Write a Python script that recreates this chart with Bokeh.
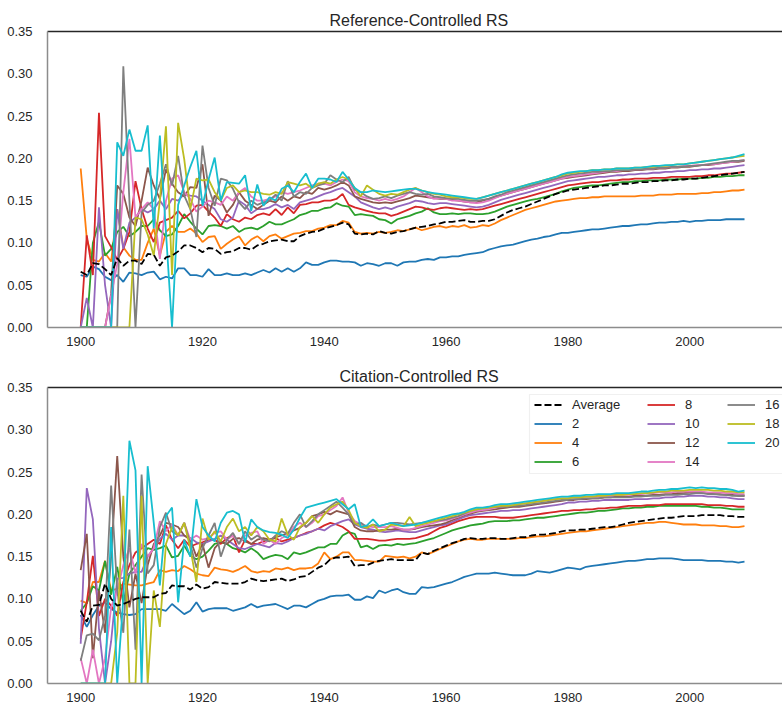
from bokeh.plotting import figure
from bokeh.models import (FixedTicker, Legend, LegendItem, Range1d, LinearAxis,
                          PrintfTickFormatter, ColumnDataSource, BoxAnnotation)
from bokeh.layouts import column
from bokeh.embed import file_html
from bokeh.resources import INLINE

years = list(range(1900, 2010))
series_labels = ["2", "4", "6", "8", "10", "12", "14", "16", "18", "20"]
series_colors = ["#1f77b4", "#ff7f0e", "#2ca02c", "#d62728", "#9467bd",
                 "#8c564b", "#e377c2", "#7f7f7f", "#bcbd22", "#17becf"]
x_ticks = [1900, 1920, 1940, 1960, 1980, 2000]
y_ticks = [0.0, 0.05, 0.10, 0.15, 0.20, 0.25, 0.30, 0.35]

# ---------------- Reference-Controlled RS (values x 1000) ----------------
ref_avg = [66,62,76,75,69,62,82,73,79,79,
           75,87,86,73,83,85,90,97,97,94,
           89,94,93,87,89,90,94,94,92,97,
           99,102,103,104,102,102,108,111,113,114,
           117,119,121,124,122,111,110,111,110,114,
           112,111,113,114,116,118,119,120,122,123,
           125,125,126,127,125,125,126,126,128,132,
           136,139,141,143,146,149,152,155,158,160,
           162,163,164,165,166,167,168,168,169,170,
           170,171,172,172,173,173,174,174,175,175,
           176,176,177,178,179,180,181,182,183,184]
ref_2 = [62,60,72,69,60,56,62,54,65,64,
         62,65,66,57,60,58,70,70,62,62,
         60,69,62,62,64,62,62,64,62,65,
         68,65,70,66,70,66,70,77,74,74,
         77,79,79,78,78,77,73,76,75,73,
         76,76,73,77,78,78,80,81,80,83,
         83,84,84,86,87,88,89,92,94,96,
         97,98,100,102,104,105,107,108,110,112,
         112,113,114,115,116,116,117,118,119,120,
         120,121,122,122,123,124,124,125,125,126,
         125,126,126,127,127,127,128,128,128,128]
ref_4 = [188,105,80,78,88,78,140,95,85,80,
         80,100,117,85,113,120,113,113,117,111,
         101,107,108,93,99,104,108,97,104,108,
         102,108,110,105,108,111,112,114,114,117,
         118,121,121,126,124,113,111,112,111,113,
         112,113,115,114,116,118,115,117,119,120,
         118,120,119,121,118,119,121,120,123,127,
         130,133,136,139,141,143,145,147,149,150,
         151,152,153,153,154,154,155,155,155,155,
         155,155,156,156,156,157,157,157,158,158,
         158,158,159,159,160,160,161,162,162,163]
ref_6 = [0,0,100,125,85,93,113,119,108,113,
         120,120,128,115,108,110,120,134,125,117,
         110,120,121,120,117,120,113,117,118,116,
         120,125,122,122,125,128,133,135,138,138,
         141,142,147,144,143,133,134,133,132,128,
         127,123,128,130,132,135,137,141,136,134,
         134,135,134,135,135,134,134,135,137,140,
         143,145,147,149,151,152,154,156,158,161,
         163,165,166,167,168,168,169,170,171,172,
         172,173,173,174,174,174,175,175,175,176,
         176,176,177,177,178,178,179,179,180,180]
ref_8 = [0,109,62,254,108,95,80,93,113,173,
         140,117,101,124,127,130,138,129,135,144,
         145,137,130,120,134,128,125,130,128,133,
         135,133,140,133,142,135,145,146,148,148,
         150,150,152,158,145,142,140,138,136,135,
         135,132,134,137,140,143,142,140,139,141,
         142,141,140,139,140,139,140,142,144,146,
         148,150,152,154,156,158,160,162,164,166,
         168,169,170,171,172,172,173,174,174,175,
         175,176,176,176,177,177,177,178,178,178,
         178,179,179,180,180,181,182,182,183,184]
ref_10 = [0,35,0,142,50,0,140,93,124,130,
          140,136,140,150,140,152,150,158,156,155,
          150,145,140,128,125,130,150,145,135,140,
          140,142,146,142,145,140,148,150,152,155,
          158,160,163,165,160,155,148,145,142,140,
          142,140,143,145,147,150,149,147,146,147,
          147,146,145,144,143,142,143,145,148,151,
          153,155,157,159,161,163,165,167,169,171,
          173,174,175,176,177,178,178,179,180,180,
          181,181,182,182,183,183,184,184,185,185,
          186,186,187,187,188,188,189,190,191,192]
ref_12 = [0,0,0,0,0,40,168,158,130,120,
          150,189,168,152,187,170,160,155,166,165,
          193,132,156,150,136,145,160,150,145,140,
          145,150,148,155,150,155,153,160,158,165,
          163,165,168,172,168,155,152,150,148,147,
          148,147,149,151,153,156,155,154,153,152,
          152,151,150,149,148,148,150,152,154,156,
          158,160,162,164,166,168,170,172,174,176,
          177,178,179,180,181,182,183,184,184,185,
          185,186,186,187,187,188,188,189,189,190,
          190,191,192,192,193,194,195,196,196,197]
ref_14 = [0,0,0,0,0,38,75,160,223,130,
          140,148,140,81,150,176,180,160,152,137,
          143,150,148,145,155,150,160,165,155,150,
          150,152,155,160,158,160,162,165,168,170,
          170,168,172,175,173,160,155,153,152,150,
          152,150,152,155,160,165,160,155,152,153,
          152,150,150,149,148,147,148,150,153,156,
          158,160,162,164,166,168,170,172,174,176,
          178,179,180,181,182,183,184,185,185,186,
          186,187,187,188,188,189,189,190,190,191,
          191,192,192,193,193,194,195,196,197,198]
ref_16 = [0,0,0,0,0,0,0,309,150,0,
          136,145,150,170,193,168,203,156,140,107,
          215,165,144,176,174,164,148,140,150,145,
          148,150,157,150,173,155,160,158,165,168,
          170,180,175,172,178,163,160,155,152,153,
          155,153,156,158,160,158,157,158,155,154,
          153,152,152,151,150,150,151,152,155,157,
          160,162,164,166,168,170,172,174,176,178,
          180,181,182,183,184,184,185,185,186,186,
          186,187,187,188,188,189,189,190,190,190,
          191,191,192,193,194,195,196,197,197,198]
ref_18 = [0,0,0,0,0,0,0,0,0,130,
          128,110,85,150,238,62,242,199,140,176,
          174,175,160,150,165,168,160,162,160,160,
          158,157,160,158,172,170,168,170,165,170,
          172,170,175,178,175,165,155,168,163,158,
          156,158,157,160,163,165,162,160,158,157,
          155,154,154,153,152,152,154,156,158,160,
          162,164,166,168,170,172,174,176,178,180,
          182,183,184,185,186,186,187,187,188,188,
          188,189,189,190,190,191,191,192,193,193,
          194,195,196,197,198,199,200,201,202,203]
ref_20 = [0,0,0,0,0,0,219,203,234,209,
          209,239,117,227,113,0,145,168,190,209,
          144,175,201,150,172,171,170,180,138,169,
          144,154,150,164,168,160,172,182,165,176,
          176,175,172,184,175,165,160,160,162,161,
          160,161,162,163,164,164,162,160,159,158,
          157,156,155,154,153,152,154,156,158,160,
          162,164,166,168,170,172,174,176,178,181,
          183,184,185,185,186,186,187,187,188,188,
          188,189,189,190,191,191,192,192,193,193,
          194,195,196,197,198,199,200,201,203,205]

# ---------------- Citation-Controlled RS (values x 1000) ----------------
cit_avg = [86,73,92,93,118,100,92,94,97,100,
           102,102,102,106,107,116,115,115,111,117,
           112,114,120,119,118,118,118,120,124,122,
           121,122,123,124,121,123,126,127,132,137,
           140,147,149,149,150,139,140,140,143,145,
           146,147,146,146,146,146,155,153,157,160,
           163,166,168,171,172,171,171,172,172,171,
           171,172,173,173,175,176,176,177,178,180,
           181,181,182,182,183,184,185,185,186,188,
           190,191,192,193,194,195,196,196,197,198,
           198,198,199,199,199,199,198,198,197,197]
cit_2 = [81,67,81,92,96,88,84,82,81,82,
         88,88,88,88,86,94,88,82,86,96,
         85,88,89,89,89,86,88,90,94,90,
         92,93,94,91,88,92,92,90,94,98,
         100,103,104,104,105,99,99,103,101,110,
         107,110,112,108,106,106,114,113,114,116,
         118,120,123,126,128,130,130,130,131,130,
         129,128,128,128,130,133,132,131,133,135,
         137,136,135,138,139,140,141,142,143,144,
         145,145,146,147,147,148,148,148,147,146,
         146,146,146,145,145,145,144,144,143,144]
cit_4 = [98,95,120,120,145,110,112,118,117,116,
         116,118,120,134,132,134,133,139,135,130,
         128,127,137,135,134,132,135,139,133,131,
         133,132,136,135,137,134,136,136,137,142,
         155,147,150,155,155,146,146,145,144,144,
         151,150,149,150,148,150,155,153,156,159,
         162,165,168,170,171,170,170,171,171,171,
         171,171,172,172,173,174,174,175,176,177,
         178,179,180,180,181,182,183,184,185,186,
         187,188,189,190,190,191,191,190,189,188,
         188,188,187,187,187,186,186,185,185,186]
cit_6 = [86,95,115,110,145,105,138,95,130,140,
         150,160,158,160,163,149,151,163,151,147,
         150,157,165,167,165,160,158,155,160,155,
         147,150,152,151,147,155,153,155,158,161,
         161,165,165,175,179,177,161,163,159,163,
         164,163,165,164,165,166,168,170,172,175,
         178,181,183,185,187,188,189,191,192,192,
         192,193,193,194,195,196,196,197,198,199,
         200,201,202,202,203,204,204,205,206,207,
         207,208,208,209,209,210,210,210,210,210,
         210,210,209,209,208,208,207,206,206,206]
cit_8 = [53,96,151,80,100,92,80,120,140,155,
         160,165,170,165,187,170,160,170,162,165,
         167,170,170,165,172,175,155,170,165,165,
         168,170,172,168,170,172,175,178,180,183,
         187,190,188,185,180,171,171,171,170,169,
         169,170,171,171,171,172,174,176,180,184,
         186,189,192,194,196,197,197,197,197,196,
         196,196,197,198,199,200,201,202,203,204,
         204,205,205,206,206,207,207,208,208,209,
         210,210,210,211,211,211,212,212,212,212,
         212,212,212,211,211,211,210,210,209,209]
cit_10 = [47,231,194,65,0,50,124,125,130,132,
          132,150,160,171,177,170,175,175,172,167,
          165,168,171,175,170,165,160,159,162,165,
          163,161,166,165,168,172,175,177,180,183,
          181,186,189,192,194,188,185,183,182,180,
          179,180,181,180,179,179,181,183,185,187,
          188,191,194,197,199,200,201,202,203,204,
          204,205,205,206,207,208,209,210,211,212,
          214,214,215,215,216,216,217,217,217,217,
          217,218,218,218,219,219,220,220,221,221,
          222,222,222,221,221,220,220,219,218,218]
cit_12 = [134,177,30,110,60,150,269,150,90,130,
          95,140,165,175,190,188,185,175,170,150,
          165,137,160,168,165,171,172,168,165,170,
          172,170,173,175,178,181,184,190,198,200,
          203,200,204,202,200,185,181,180,180,181,
          182,182,183,182,182,183,185,186,187,188,
          190,193,196,199,201,203,204,205,206,207,
          208,209,209,210,211,212,213,214,215,216,
          217,217,218,218,219,219,220,220,221,221,
          221,222,222,222,223,223,224,224,225,225,
          226,226,225,225,224,224,223,223,222,222]
cit_14 = [30,0,40,0,30,90,110,140,160,130,
          165,150,160,192,180,188,175,190,170,175,
          170,172,178,180,170,175,165,175,178,180,
          165,170,165,172,175,185,190,185,190,198,
          200,205,210,220,202,192,188,186,185,185,
          185,186,184,182,182,184,186,188,190,192,
          193,195,197,200,202,204,205,206,208,209,
          210,211,212,213,214,215,216,217,218,219,
          219,220,220,221,221,221,222,222,223,223,
          223,224,224,225,225,226,226,226,227,227,
          227,227,227,226,226,226,225,225,224,224]
cit_16 = [27,57,59,51,80,234,110,60,182,40,
          247,130,140,185,202,180,175,190,165,137,
          160,175,190,150,170,178,165,180,170,175,
          170,168,175,180,177,190,200,185,192,200,
          205,210,215,208,200,188,190,185,188,186,
          188,190,190,189,188,189,190,191,192,193,
          194,196,198,201,204,206,207,208,209,209,
          209,210,210,211,212,213,214,215,216,217,
          217,218,218,219,219,219,220,220,220,220,
          220,221,221,222,222,222,223,223,223,224,
          224,225,225,224,224,223,223,222,222,222]
cit_18 = [0,0,0,0,0,0,60,222,0,0,
          222,0,110,67,165,185,175,190,160,120,
          195,170,180,168,185,195,180,185,175,185,
          180,170,168,195,176,170,185,190,198,190,
          200,208,212,215,205,190,186,184,188,180,
          182,188,187,186,197,186,188,190,192,194,
          196,198,200,202,204,206,207,208,209,210,
          210,211,212,213,214,215,216,217,218,219,
          219,220,220,221,221,222,222,223,223,223,
          224,224,225,225,226,227,227,228,228,228,
          229,229,229,229,228,228,227,227,226,226]
cit_20 = [0,0,0,0,0,185,0,100,287,252,
          0,257,190,116,198,208,96,170,150,218,
          185,175,168,190,202,204,200,167,194,185,
          181,179,178,176,172,182,196,208,210,212,
          214,216,218,212,206,212,185,187,194,186,
          188,190,188,186,187,188,190,192,194,196,
          198,200,201,203,206,208,208,209,211,212,
          212,213,214,215,216,217,218,219,220,221,
          221,222,222,223,223,224,224,224,225,225,
          225,226,227,227,228,229,229,230,230,231,
          232,231,232,231,231,230,230,229,227,228]

ref_series = [ref_2, ref_4, ref_6, ref_8, ref_10, ref_12, ref_14, ref_16, ref_18, ref_20]
cit_series = [cit_2, cit_4, cit_6, cit_8, cit_10, cit_12, cit_14, cit_16, cit_18, cit_20]

FONT = "Liberation Sans"
TXT = "#262626"
FW, FH = 735, 296
X0 = 1894.55
X1 = X0 + FW / 6.09
Y0, Y1 = 0.0, 0.35


def make_panel(title, title_offset, avg, series, top_border, bottom_border, with_legend):
    p = figure(frame_width=FW, frame_height=FH,
               x_range=Range1d(X0, X1), y_range=Range1d(Y0, Y1),
               output_backend="svg", toolbar_location=None,
               min_border_left=47, min_border_right=0,
               min_border_top=top_border, min_border_bottom=bottom_border,
               title=title)
    p.title.text_font = FONT
    p.title.text_font_size = "16px"
    p.title.text_font_style = "normal"
    p.title.text_color = TXT
    p.title.align = "left"
    p.title.offset = title_offset
    p.title.standoff = 6
    p.outline_line_color = None
    p.xgrid.visible = False
    p.ygrid.visible = False
    p.background_fill_color = "white"
    p.border_fill_color = "white"

    for ax in (p.xaxis[0], p.yaxis[0]):
        ax.axis_line_color = "#8c8c8c"
        ax.axis_line_width = 1.5
        ax.major_tick_line_color = None
        ax.minor_tick_line_color = None
        ax.major_label_text_font = FONT
        ax.major_label_text_font_size = "13px"
        ax.major_label_text_color = TXT
    p.xaxis[0].ticker = FixedTicker(ticks=x_ticks)
    p.xaxis[0].major_label_standoff = 3
    p.yaxis[0].ticker = FixedTicker(ticks=y_ticks)
    p.yaxis[0].formatter = PrintfTickFormatter(format="%.2f")
    p.yaxis[0].major_label_standoff = 9

    top = LinearAxis(ticker=FixedTicker(ticks=[]), axis_line_color="#262626",
                     axis_line_width=1.5, major_tick_line_color=None,
                     minor_tick_line_color=None, major_label_text_font_size="0px",
                     major_label_standoff=0)
    p.add_layout(top, "above")

    renderers = []
    for vals, col in zip(series, series_colors):
        src = ColumnDataSource(dict(x=years, y=[v / 1000 for v in vals]))
        r = p.line("x", "y", source=src, line_color=col, line_width=1.8)
        renderers.append(r)
    src_avg = ColumnDataSource(dict(x=years, y=[v / 1000 for v in avg]))
    r_avg = p.line("x", "y", source=src_avg, line_color="black", line_width=1.8,
                   line_dash="7 3")

    if with_legend:
        sx = (X1 - X0) / FW
        sy = (Y1 - Y0) / FH
        box = BoxAnnotation(left=X0 + 482 * sx, right=X1 + 10 * sx,
                            top=Y1 - 7 * sy, bottom=Y1 - 86 * sy,
                            fill_color="white", fill_alpha=0.85,
                            line_color="#cccccc", line_width=1.2)
        p.add_layout(box)
        all_items = [("Average", r_avg)] + list(zip(series_labels, renderers))
        cols = [all_items[0:4], all_items[4:8], all_items[8:11]]
        col_x = [487, 600, 680]
        for items, cx in zip(cols, col_x):
            n = len(items)
            leg = Legend(items=[LegendItem(label=l, renderers=[r]) for l, r in items],
                         location=(cx, FH - 8 - 19 * n), orientation="vertical",
                         label_text_font=FONT, label_text_font_size="13px",
                         label_text_color=TXT, glyph_width=28, glyph_height=19,
                         label_height=19, label_standoff=10, spacing=0, padding=0,
                         margin=0, border_line_color=None,
                         background_fill_alpha=0)
            p.add_layout(leg)
    return p


p_top = make_panel("Reference-Controlled RS", 282, ref_avg, ref_series, 31, 35, False)
p_bot = make_panel("Citation-Controlled RS", 292, cit_avg, cit_series, 24, 22, True)

layout = column(p_top, p_bot, spacing=0)
open("out.html", "w").write(file_html(layout, INLINE))
